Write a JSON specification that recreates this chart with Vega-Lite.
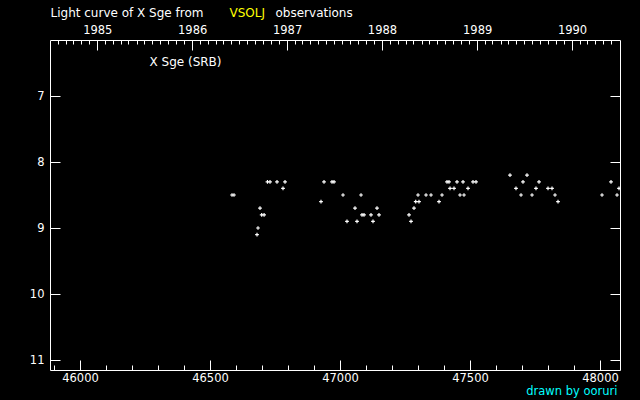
{
  "$schema": "https://vega.github.io/schema/vega-lite/v6.json",
  "width": 570,
  "height": 330,
  "autosize": {"type": "none"},
  "padding": {"left": 50, "top": 40, "right": 20, "bottom": 30},
  "background": "black",
  "config": {
    "view": {"stroke": "white", "strokeWidth": 1},
    "axis": {
      "domain": false, "grid": false, "tickColor": "white", "tickWidth": 1,
      "labelColor": "white", "labelFont": "DejaVu Sans", "labelFontSize": 11.5,
      "titleFont": "DejaVu Sans", "titleFontSize": 12, "titleFontWeight": "normal",
      "titleColor": "white", "titleAngle": 0, "titleBaseline": "middle"
    }
  },
  "data": {"values": [
    {"jd": 46584.6, "mag": 8.5}, {"jd": 46592.3, "mag": 8.5},
    {"jd": 46680.8, "mag": 9.1}, {"jd": 46684.6, "mag": 9.0},
    {"jd": 46692.3, "mag": 8.7}, {"jd": 46698.8, "mag": 8.8},
    {"jd": 46708.0, "mag": 8.8}, {"jd": 46721.0, "mag": 8.3},
    {"jd": 46730.8, "mag": 8.3}, {"jd": 46757.7, "mag": 8.3},
    {"jd": 46780.8, "mag": 8.4}, {"jd": 46788.5, "mag": 8.3},
    {"jd": 46926.9, "mag": 8.6}, {"jd": 46938.5, "mag": 8.3},
    {"jd": 46969.2, "mag": 8.3}, {"jd": 46976.9, "mag": 8.3},
    {"jd": 47011.5, "mag": 8.5}, {"jd": 47026.9, "mag": 8.9},
    {"jd": 47057.7, "mag": 8.7}, {"jd": 47065.4, "mag": 8.9},
    {"jd": 47080.8, "mag": 8.5}, {"jd": 47084.6, "mag": 8.8},
    {"jd": 47092.3, "mag": 8.8}, {"jd": 47119.2, "mag": 8.8},
    {"jd": 47126.9, "mag": 8.9}, {"jd": 47142.3, "mag": 8.7},
    {"jd": 47150.0, "mag": 8.8}, {"jd": 47265.4, "mag": 8.8},
    {"jd": 47273.1, "mag": 8.9}, {"jd": 47284.6, "mag": 8.7},
    {"jd": 47291.2, "mag": 8.6}, {"jd": 47303.8, "mag": 8.6},
    {"jd": 47300.0, "mag": 8.5}, {"jd": 47330.8, "mag": 8.5},
    {"jd": 47350.0, "mag": 8.5}, {"jd": 47380.8, "mag": 8.6},
    {"jd": 47392.3, "mag": 8.5}, {"jd": 47411.5, "mag": 8.3},
    {"jd": 47419.2, "mag": 8.3}, {"jd": 47423.1, "mag": 8.4},
    {"jd": 47438.5, "mag": 8.4}, {"jd": 47450.0, "mag": 8.3},
    {"jd": 47461.5, "mag": 8.5}, {"jd": 47473.1, "mag": 8.3},
    {"jd": 47476.9, "mag": 8.5}, {"jd": 47492.3, "mag": 8.4},
    {"jd": 47511.5, "mag": 8.3}, {"jd": 47523.1, "mag": 8.3},
    {"jd": 47653.8, "mag": 8.2}, {"jd": 47676.9, "mag": 8.4},
    {"jd": 47696.2, "mag": 8.5}, {"jd": 47703.8, "mag": 8.3},
    {"jd": 47719.2, "mag": 8.2}, {"jd": 47738.5, "mag": 8.5},
    {"jd": 47753.8, "mag": 8.4}, {"jd": 47765.4, "mag": 8.3},
    {"jd": 47800.0, "mag": 8.4}, {"jd": 47815.4, "mag": 8.4},
    {"jd": 47826.9, "mag": 8.5}, {"jd": 47838.5, "mag": 8.6},
    {"jd": 48007.7, "mag": 8.5}, {"jd": 48042.3, "mag": 8.3},
    {"jd": 48065.4, "mag": 8.5}, {"jd": 48073.1, "mag": 8.4}
  ]},
  "resolve": {"axis": {"x": "independent", "y": "independent"}},
  "layer": [
    {
      "mark": {"type": "point", "shape": "M-1,0L1,0M0,-1L0,1", "filled": false, "stroke": "white", "strokeWidth": 1.2, "size": 14, "opacity": 1, "clip": true},
      "encoding": {
        "x": {"field": "jd", "type": "quantitative",
          "scale": {"domain": [45884.6, 48076.9], "nice": false, "zero": false},
          "axis": {"orient": "bottom", "values": [46000, 46500, 47000, 47500, 48000], "format": "d", "tickSize": -10, "labelPadding": 12, "title": null}},
        "y": {"field": "mag", "type": "quantitative",
          "scale": {"domain": [6.1515, 11.1515], "reverse": true, "nice": false, "zero": false},
          "axis": {"orient": "left", "values": [7, 8, 9, 10, 11], "format": "d", "tickSize": -10, "labelPadding": 16,
            "title": "X Sge (SRB)", "titleX": 99, "titleY": 21, "titleAlign": "left"}}
      }
    },
    {
      "mark": {"type": "point", "opacity": 0},
      "encoding": {
        "x": {"field": "jd", "type": "quantitative",
          "axis": {"orient": "bottom", "values": [45900, 46100, 46200, 46300, 46400, 46600, 46700, 46800, 46900, 47100, 47200, 47300, 47400, 47600, 47700, 47800, 47900], "labels": false, "tickSize": -5,
            "title": "drawn by ooruri", "titleColor": "#00ffff", "titleFontSize": 11.5, "titleX": 567, "titleY": 21.5, "titleAlign": "right"}},
        "y": {"field": "mag", "type": "quantitative",
          "axis": {"orient": "right", "values": [7, 8, 9, 10, 11], "labels": false, "tickSize": -10,
            "title": "observations", "titleX": -345, "titleY": -28, "titleAlign": "left"}}
      }
    },
    {
      "mark": {"type": "point", "opacity": 0},
      "encoding": {
        "x": {"field": "jd", "type": "quantitative",
          "axis": {"orient": "top", "values": [46066.5, 46431.5, 46796.5, 47161.5, 47527.5, 47892.5], "tickSize": -10, "labelPadding": 15,
            "labelExpr": "round((datum.value - 46066.5) / 365.25) + 1985",
            "title": "Light curve of X Sge from", "titleX": 0, "titleY": -28, "titleAlign": "left"}},
        "y": {"field": "mag", "type": "quantitative", "axis": null}
      }
    },
    {
      "mark": {"type": "point", "opacity": 0},
      "encoding": {
        "x": {"field": "jd", "type": "quantitative",
          "axis": {"orient": "top", "values": [45913.5, 45944.5, 45974.5, 46005.5, 46035.5, 46097.5, 46125.5, 46156.5, 46186.5, 46217.5, 46247.5, 46278.5, 46309.5, 46339.5, 46370.5, 46400.5, 46462.5, 46490.5, 46521.5, 46551.5, 46582.5, 46612.5, 46643.5, 46674.5, 46704.5, 46735.5, 46765.5, 46827.5, 46855.5, 46886.5, 46916.5, 46947.5, 46977.5, 47008.5, 47039.5, 47069.5, 47100.5, 47130.5, 47192.5, 47221.5, 47252.5, 47282.5, 47313.5, 47343.5, 47374.5, 47405.5, 47435.5, 47466.5, 47496.5, 47558.5, 47586.5, 47617.5, 47647.5, 47678.5, 47708.5, 47739.5, 47770.5, 47800.5, 47831.5, 47861.5, 47923.5, 47951.5, 47982.5, 48012.5, 48043.5],
            "labels": false, "tickSize": -4,
            "title": "VSOLJ", "titleColor": "#ffff00", "titleX": 179, "titleY": -28, "titleAlign": "left"}},
        "y": {"field": "mag", "type": "quantitative", "axis": null}
      }
    }
  ]
}
